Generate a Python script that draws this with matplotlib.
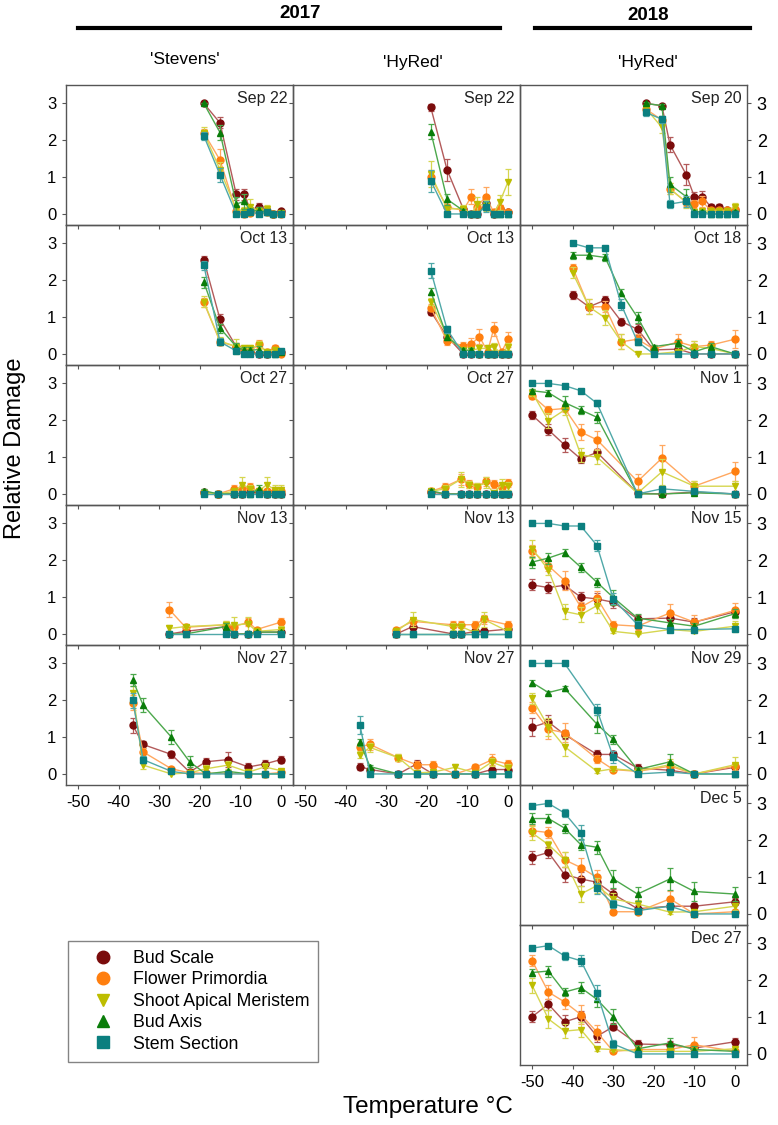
import matplotlib
matplotlib.use("Agg")
import matplotlib.pyplot as plt
from matplotlib.lines import Line2D

plt.rcParams["font.family"] = ["Liberation Sans", "DejaVu Sans"]
plt.rcParams["axes.unicode_minus"] = False

# tissue order: Bud Scale, Flower Primordia, Shoot Apical Meristem, Bud Axis, Stem Section
tissues = ["Bud Scale", "Flower Primordia", "Shoot Apical Meristem", "Bud Axis", "Stem Section"]
marker_colors = ["#7A0B0B", "#FF7F0F", "#BDBD00", "#0A7D0A", "#0B7F7F"]
line_colors = ["#B35A5A", "#FFA860", "#D6D650", "#4CA84C", "#4FA8A8"]
markers = ["o", "o", "v", "^", "s"]

# ---- 2017 'Stevens' ----
st_sep22_temp = [-19, -15, -11, -9, -7.5, -5.5, -3.5, -2, 0]
st_sep22_mean = [[3.0, 2.47, 0.53, 0.53, 0.1, 0.2, 0.07, 0.0, 0.07],
                 [2.2, 1.46, 0.07, 0.0, 0.02, 0.05, 0.05, 0.0, 0.0],
                 [2.2, 1.2, 0.13, 0.08, 0.2, 0.08, 0.13, 0.0, 0.03],
                 [3.0, 2.21, 0.27, 0.34, 0.07, 0.1, 0.05, 0.0, 0.02],
                 [2.12, 1.06, 0.0, 0.0, 0.06, 0.0, 0.05, 0.0, 0.0]]
st_sep22_se = [[0, 0.15, 0.15, 0.15, 0.1, 0.1, 0.08, 0, 0.05],
               [0.1, 0.3, 0.1, 0, 0.05, 0.05, 0.05, 0, 0],
               [0.15, 0.2, 0.1, 0.1, 0.2, 0.1, 0.1, 0, 0.05],
               [0, 0.2, 0.2, 0.2, 0.1, 0.1, 0.05, 0, 0.05],
               [0.1, 0.2, 0, 0, 0.05, 0, 0.05, 0, 0]]

st_oct13_temp = [-19, -15, -11, -9, -7.5, -5.5, -3.5, -1.5, 0]
st_oct13_mean = [[2.55, 0.94, 0.2, 0.06, 0.06, 0.0, 0.0, 0.06, 0.06],
                 [1.4, 0.33, 0.2, 0.1, 0.06, 0.27, 0.06, 0.15, 0.0],
                 [1.42, 0.35, 0.2, 0.15, 0.15, 0.24, 0.06, 0.1, 0.06],
                 [1.95, 0.7, 0.2, 0.1, 0.1, 0.12, 0.0, 0.0, 0.06],
                 [2.41, 0.33, 0.08, 0.0, 0.0, 0.0, 0.0, 0.0, 0.08]]
st_oct13_se = [[0.12, 0.15, 0.1, 0.05, 0.05, 0, 0, 0.05, 0.05],
               [0.12, 0.1, 0.1, 0.1, 0.1, 0.12, 0.05, 0.1, 0],
               [0.15, 0.1, 0.2, 0.1, 0.1, 0.1, 0.05, 0.1, 0.05],
               [0.15, 0.12, 0.1, 0.1, 0.1, 0.1, 0, 0, 0.05],
               [0.12, 0.1, 0.05, 0, 0, 0, 0, 0, 0.05]]

st_oct27_temp = [-19, -15.5, -11.5, -9.5, -7.5, -5.5, -3.5, -1.5, 0]
st_oct27_mean = [[0.05, 0.0, 0.0, 0.0, 0.05, 0.05, 0.0, 0.0, 0.0],
                 [0.03, 0.0, 0.14, 0.14, 0.19, 0.07, 0.09, 0.09, 0.09],
                 [0.03, 0.0, 0.07, 0.25, 0.14, 0.07, 0.25, 0.12, 0.12],
                 [0.09, 0.0, 0.0, 0.0, 0.0, 0.14, 0.0, 0.0, 0.0],
                 [0.0, 0.0, 0.0, 0.0, 0.0, 0.0, 0.0, 0.0, 0.0]]
st_oct27_se = [[0, 0, 0, 0, 0.05, 0.05, 0, 0, 0],
               [0.05, 0, 0.1, 0.1, 0.1, 0.05, 0.05, 0.1, 0.1],
               [0.05, 0, 0.05, 0.2, 0.1, 0.1, 0.2, 0.12, 0.12],
               [0.05, 0, 0, 0, 0, 0.1, 0, 0, 0],
               [0, 0, 0, 0, 0, 0, 0, 0, 0]]

st_nov13_temp = [-27.5, -23.5, -13.5, -11.5, -8, -6, 0]
st_nov13_mean = [[0.0, 0.07, 0.2, 0.0, 0.0, 0.05, 0.05],
                 [0.66, 0.18, 0.25, 0.2, 0.32, 0.12, 0.32],
                 [0.15, 0.2, 0.25, 0.25, 0.27, 0.07, 0.12],
                 [0.0, 0.0, 0.2, 0.0, 0.0, 0.05, 0.05],
                 [0.0, 0.0, 0.0, 0.0, 0.0, 0.0, 0.0]]
st_nov13_se = [[0, 0.05, 0.1, 0, 0, 0.03, 0.03],
               [0.2, 0.05, 0.1, 0.1, 0.1, 0.05, 0.1],
               [0.1, 0.05, 0.1, 0.2, 0.2, 0.05, 0.1],
               [0, 0, 0.1, 0, 0, 0.03, 0.03],
               [0, 0, 0, 0, 0, 0, 0]]

st_nov27_temp = [-36.5, -34, -27, -22.5, -18.5, -13, -8, -4, 0]
st_nov27_mean = [[1.32, 0.8, 0.53, 0.05, 0.33, 0.39, 0.19, 0.27, 0.39],
                 [1.93, 0.6, 0.14, 0.03, 0.02, 0.02, 0.0, 0.0, 0.04],
                 [2.2, 0.24, 0.0, 0.03, 0.14, 0.24, 0.05, 0.19, 0.09],
                 [2.55, 1.87, 1.0, 0.33, 0.0, 0.07, 0.0, 0.0, 0.0],
                 [2.0, 0.39, 0.07, 0.0, 0.0, 0.0, 0.0, 0.0, 0.0]]
st_nov27_se = [[0.2, 0.1, 0.1, 0.05, 0.1, 0.2, 0.1, 0.1, 0.1],
               [0.2, 0.1, 0.05, 0.05, 0, 0, 0, 0, 0.05],
               [0.2, 0.1, 0, 0.05, 0.1, 0.1, 0.05, 0.1, 0.05],
               [0.15, 0.2, 0.2, 0.15, 0, 0.05, 0, 0, 0],
               [0.2, 0.1, 0.05, 0, 0, 0, 0, 0, 0]]

# ---- 2017 'HyRed' ----
hy17_sep22_temp = [-19, -15, -11, -9, -7.5, -5.5, -3.5, -2, 0]
hy17_sep22_mean = [[2.89, 1.2, 0.14, 0.0, 0.0, 0.29, 0.0, 0.14, 0.06],
                   [1.0, 0.18, 0.1, 0.47, 0.2, 0.47, 0.06, 0.15, 0.06],
                   [1.08, 0.14, 0.14, 0.0, 0.27, 0.23, 0.0, 0.32, 0.86],
                   [2.23, 0.4, 0.09, 0.0, 0.0, 0.23, 0.0, 0.0, 0.0],
                   [0.9, 0.0, 0.0, 0.0, 0.0, 0.2, 0.0, 0.0, 0.0]]
hy17_sep22_se = [[0.1, 0.3, 0.05, 0, 0, 0.15, 0, 0.1, 0.05],
                 [0.2, 0.1, 0.1, 0.2, 0.1, 0.25, 0.05, 0.1, 0.05],
                 [0.35, 0.1, 0.1, 0, 0.2, 0.15, 0, 0.2, 0.35],
                 [0.2, 0.15, 0.05, 0, 0, 0.1, 0, 0, 0],
                 [0.3, 0, 0, 0, 0, 0.15, 0, 0, 0]]

hy17_oct13_temp = [-19, -15, -11, -9, -7, -5, -3.5, -1.5, 0]
hy17_oct13_mean = [[1.15, 0.47, 0.0, 0.0, 0.0, 0.0, 0.0, 0.0, 0.0],
                   [1.26, 0.35, 0.22, 0.27, 0.47, 0.06, 0.68, 0.06, 0.4],
                   [1.42, 0.5, 0.1, 0.1, 0.15, 0.15, 0.2, 0.0, 0.2],
                   [1.69, 0.47, 0.1, 0.1, 0.0, 0.0, 0.0, 0.0, 0.0],
                   [2.26, 0.67, 0.0, 0.0, 0.0, 0.0, 0.0, 0.0, 0.0]]
hy17_oct13_se = [[0.1, 0.1, 0, 0, 0, 0, 0, 0, 0],
                 [0.1, 0.1, 0.1, 0.15, 0.2, 0.05, 0.2, 0.05, 0.2],
                 [0.1, 0.1, 0.05, 0.05, 0.1, 0.1, 0.1, 0, 0.1],
                 [0.1, 0.1, 0.05, 0.05, 0, 0, 0, 0, 0],
                 [0.2, 0.1, 0, 0, 0, 0, 0, 0, 0]]

hy17_oct27_temp = [-19, -15.5, -11.5, -9.5, -7.5, -5.5, -3.5, -1.5, 0]
hy17_oct27_mean = [[0.05, 0.0, 0.0, 0.0, 0.0, 0.0, 0.0, 0.0, 0.0],
                   [0.07, 0.2, 0.4, 0.27, 0.2, 0.34, 0.27, 0.18, 0.3],
                   [0.07, 0.14, 0.4, 0.25, 0.2, 0.3, 0.02, 0.25, 0.22],
                   [0.09, 0.0, 0.0, 0.0, 0.0, 0.0, 0.0, 0.0, 0.0],
                   [0.0, 0.0, 0.0, 0.0, 0.0, 0.0, 0.0, 0.0, 0.0]]
hy17_oct27_se = [[0.03, 0, 0, 0, 0, 0, 0, 0, 0],
                 [0.05, 0.1, 0.15, 0.1, 0.1, 0.12, 0.12, 0.1, 0.1],
                 [0.05, 0.1, 0.2, 0.1, 0.1, 0.15, 0.05, 0.15, 0.1],
                 [0.05, 0, 0, 0, 0, 0, 0, 0, 0],
                 [0, 0, 0, 0, 0, 0, 0, 0, 0]]

hy17_nov13_temp = [-27.5, -23.5, -13.5, -11.5, -8, -6, 0]
hy17_nov13_mean = [[0.0, 0.2, 0.0, 0.0, 0.07, 0.07, 0.13],
                   [0.12, 0.34, 0.25, 0.25, 0.25, 0.4, 0.25],
                   [0.07, 0.39, 0.2, 0.2, 0.03, 0.4, 0.07],
                   [0.0, 0.0, 0.0, 0.0, 0.0, 0.0, 0.0],
                   [0.0, 0.0, 0.0, 0.0, 0.0, 0.0, 0.0]]
hy17_nov13_se = [[0, 0.1, 0, 0, 0.05, 0.05, 0.05],
                 [0.05, 0.1, 0.1, 0.1, 0.1, 0.12, 0.1],
                 [0.05, 0.2, 0.1, 0.1, 0.05, 0.2, 0.05],
                 [0, 0, 0, 0, 0, 0, 0],
                 [0, 0, 0, 0, 0, 0, 0]]

hy17_nov27_temp = [-36.5, -34, -27, -22.5, -18.5, -13, -8, -4, 0]
hy17_nov27_mean = [[0.2, 0.12, 0.0, 0.27, 0.0, 0.0, 0.0, 0.12, 0.12],
                   [0.74, 0.8, 0.44, 0.25, 0.25, 0.0, 0.18, 0.38, 0.27],
                   [0.52, 0.72, 0.44, 0.03, 0.05, 0.18, 0.03, 0.32, 0.16],
                   [0.86, 0.2, 0.0, 0.0, 0.0, 0.0, 0.0, 0.0, 0.0],
                   [1.33, 0.0, 0.0, 0.0, 0.0, 0.0, 0.0, 0.0, 0.0]]
hy17_nov27_se = [[0.1, 0.05, 0, 0.1, 0, 0, 0, 0.05, 0.05],
                 [0.1, 0.15, 0.1, 0.1, 0.1, 0, 0.1, 0.15, 0.1],
                 [0.1, 0.12, 0.1, 0.05, 0.05, 0.1, 0.05, 0.1, 0.1],
                 [0.1, 0.05, 0, 0, 0, 0, 0, 0, 0],
                 [0.25, 0, 0, 0, 0, 0, 0, 0, 0]]

# ---- 2018 'HyRed' ----
hy18_sep20_temp = [-22, -18, -16, -12, -10, -8, -6, -4, -2, 0]
hy18_sep20_mean = [[3.0, 2.94, 1.88, 1.07, 0.47, 0.47, 0.2, 0.2, 0.1, 0.1],
                   [2.85, 2.55, 0.68, 0.32, 0.27, 0.34, 0.1, 0.1, 0.1, 0.14],
                   [2.87, 2.35, 0.68, 0.32, 0.05, 0.08, 0.08, 0.08, 0.08, 0.2],
                   [3.0, 2.94, 0.8, 0.47, 0.05, 0.06, 0.0, 0.0, 0.0, 0.05],
                   [2.76, 2.57, 0.27, 0.34, 0.0, 0.0, 0.0, 0.0, 0.0, 0.0]]
hy18_sep20_se = [[0, 0.05, 0.2, 0.28, 0.12, 0.15, 0.08, 0.08, 0.05, 0.05],
                 [0.1, 0.1, 0.15, 0.1, 0.1, 0.15, 0.05, 0.05, 0.05, 0.05],
                 [0.1, 0.15, 0.15, 0.15, 0.05, 0.05, 0.05, 0.05, 0.05, 0.1],
                 [0.05, 0.05, 0.2, 0.2, 0.05, 0.05, 0, 0, 0, 0.05],
                 [0.1, 0.1, 0.1, 0.15, 0, 0, 0, 0, 0, 0]]

hy18_oct18_temp = [-40, -36, -32, -28, -24, -20, -14, -10, -6, 0]
hy18_oct18_mean = [[1.6, 1.28, 1.46, 0.88, 0.67, 0.11, 0.13, 0.0, 0.0, 0.0],
                   [2.34, 1.28, 1.28, 0.33, 0.4, 0.13, 0.33, 0.2, 0.24, 0.4],
                   [2.2, 1.28, 0.98, 0.33, 0.0, 0.0, 0.06, 0.2, 0.15, 0.0],
                   [2.68, 2.68, 2.62, 1.66, 0.99, 0.2, 0.29, 0.06, 0.2, 0.0],
                   [3.0, 2.88, 2.88, 1.33, 0.33, 0.0, 0.0, 0.0, 0.0, 0.0]]
hy18_oct18_se = [[0.1, 0.1, 0.1, 0.1, 0.15, 0.1, 0.1, 0, 0, 0],
                 [0.1, 0.2, 0.15, 0.2, 0.15, 0.1, 0.2, 0.15, 0.1, 0.25],
                 [0.15, 0.2, 0.2, 0.2, 0, 0, 0.05, 0.15, 0.1, 0],
                 [0.1, 0.1, 0.1, 0.1, 0.15, 0.05, 0.1, 0.05, 0.1, 0],
                 [0, 0.05, 0.05, 0.15, 0.1, 0, 0, 0, 0, 0]]

hy18_nov1_temp = [-50, -46, -42, -38, -34, -24, -18, -10, 0]
hy18_nov1_mean = [[2.14, 1.74, 1.33, 0.95, 1.13, 0.02, 0.0, 0.05, 0.0],
                  [2.67, 2.28, 2.32, 1.68, 1.47, 0.34, 0.97, 0.21, 0.61],
                  [2.75, 1.99, 2.28, 1.06, 1.0, 0.02, 0.6, 0.21, 0.21],
                  [2.8, 2.75, 2.48, 2.28, 2.08, 0.0, 0.0, 0.03, 0.0],
                  [3.0, 3.0, 2.94, 2.8, 2.46, 0.0, 0.14, 0.07, 0.0]]
hy18_nov1_se = [[0.1, 0.15, 0.18, 0.12, 0.1, 0, 0, 0.05, 0],
                [0.08, 0.12, 0.1, 0.22, 0.25, 0.2, 0.35, 0.15, 0.25],
                [0.1, 0.2, 0.15, 0.2, 0.2, 0, 0.35, 0.15, 0.15],
                [0.05, 0.08, 0.18, 0.12, 0.15, 0, 0, 0.05, 0],
                [0, 0, 0.05, 0.05, 0.08, 0, 0.08, 0.05, 0]]

hy18_nov15_temp = [-50, -46, -42, -38, -34, -30, -24, -16, -10, 0]
hy18_nov15_mean = [[1.33, 1.26, 1.32, 1.0, 0.95, 0.86, 0.41, 0.43, 0.32, 0.6],
                   [2.26, 1.85, 1.45, 0.73, 0.97, 0.25, 0.21, 0.57, 0.32, 0.64],
                   [2.31, 1.74, 0.61, 0.52, 0.77, 0.07, 0.0, 0.12, 0.07, 0.21],
                   [1.95, 2.06, 2.21, 1.81, 1.4, 0.99, 0.43, 0.3, 0.21, 0.55],
                   [3.0, 3.0, 2.93, 2.93, 2.4, 0.95, 0.25, 0.12, 0.12, 0.14]]
hy18_nov15_se = [[0.15, 0.15, 0.1, 0.15, 0.15, 0.15, 0.1, 0.1, 0.1, 0.1],
                 [0.15, 0.15, 0.25, 0.15, 0.2, 0.1, 0.1, 0.25, 0.2, 0.2],
                 [0.25, 0.15, 0.2, 0.2, 0.2, 0.05, 0, 0.05, 0.05, 0.15],
                 [0.15, 0.15, 0.1, 0.12, 0.12, 0.2, 0.1, 0.1, 0.1, 0.12],
                 [0, 0, 0.03, 0.03, 0.15, 0.15, 0.1, 0.05, 0.05, 0.05]]

hy18_nov29_temp = [-50, -46, -42, -34, -30, -24, -16, -10, 0]
hy18_nov29_mean = [[1.27, 1.41, 1.07, 0.53, 0.53, 0.16, 0.1, 0.0, 0.18],
                   [1.8, 1.21, 1.12, 0.41, 0.12, 0.07, 0.21, 0.0, 0.21],
                   [2.05, 1.28, 0.74, 0.07, 0.14, 0.08, 0.25, 0.0, 0.25],
                   [2.48, 2.21, 2.32, 1.35, 0.94, 0.12, 0.33, 0.0, 0.0],
                   [3.0, 3.0, 3.0, 1.74, 0.46, 0.0, 0.05, 0.0, 0.0]]
hy18_nov29_se = [[0.25, 0.2, 0.12, 0.12, 0.1, 0.1, 0.1, 0, 0.05],
                 [0.15, 0.25, 0.25, 0.1, 0.05, 0.05, 0.15, 0, 0.1],
                 [0.15, 0.25, 0.25, 0.05, 0.05, 0.05, 0.15, 0, 0.2],
                 [0.08, 0.05, 0.08, 0.25, 0.12, 0.08, 0.2, 0, 0],
                 [0, 0, 0, 0.15, 0.15, 0, 0.05, 0, 0]]

hy18_dec5_temp = [-50, -46, -42, -38, -34, -30, -24, -16, -10, 0]
hy18_dec5_mean = [[1.54, 1.67, 1.07, 0.95, 0.86, 0.54, 0.14, 0.21, 0.21, 0.33],
                  [2.26, 2.21, 1.47, 1.26, 0.99, 0.06, 0.06, 0.41, 0.0, 0.06],
                  [2.2, 1.88, 1.47, 0.54, 0.77, 0.41, 0.27, 0.05, 0.06, 0.21],
                  [2.59, 2.59, 2.33, 1.88, 1.81, 0.95, 0.54, 0.95, 0.61, 0.54],
                  [2.94, 3.0, 2.74, 2.21, 0.7, 0.27, 0.09, 0.21, 0.0, 0.0]]
hy18_dec5_se = [[0.18, 0.15, 0.2, 0.2, 0.2, 0.15, 0.1, 0.1, 0.1, 0.1],
                [0.15, 0.15, 0.2, 0.25, 0.2, 0.05, 0.05, 0.2, 0, 0.05],
                [0.2, 0.1, 0.2, 0.22, 0.2, 0.15, 0.1, 0.05, 0.05, 0.1],
                [0.15, 0.12, 0.12, 0.15, 0.18, 0.25, 0.2, 0.3, 0.25, 0.2],
                [0.03, 0, 0.1, 0.2, 0.15, 0.1, 0.05, 0.1, 0, 0]]

hy18_dec27_temp = [-50, -46, -42, -38, -34, -30, -24, -16, -10, 0]
hy18_dec27_mean = [[1.01, 1.35, 0.87, 1.01, 0.48, 0.74, 0.27, 0.25, 0.16, 0.33],
                   [2.53, 1.68, 1.41, 1.07, 0.59, 0.07, 0.12, 0.12, 0.25, 0.07],
                   [1.86, 0.95, 0.62, 0.66, 0.14, 0.12, 0.07, 0.07, 0.07, 0.14],
                   [2.21, 2.25, 1.68, 1.8, 1.48, 1.01, 0.14, 0.3, 0.12, 0.07],
                   [2.87, 2.94, 2.66, 2.53, 1.66, 0.27, 0.0, 0.0, 0.0, 0.0]]
hy18_dec27_se = [[0.15, 0.15, 0.18, 0.15, 0.15, 0.1, 0.1, 0.1, 0.1, 0.1],
                 [0.15, 0.2, 0.2, 0.25, 0.2, 0.05, 0.1, 0.1, 0.2, 0.05],
                 [0.2, 0.25, 0.2, 0.2, 0.05, 0.05, 0, 0, 0, 0.05],
                 [0.1, 0.15, 0.12, 0.15, 0.2, 0.2, 0.1, 0.12, 0.1, 0.05],
                 [0.05, 0.03, 0.1, 0.15, 0.2, 0.1, 0, 0, 0, 0]]

stevens_dates = ["Sep 22", "Oct 13", "Oct 27", "Nov 13", "Nov 27"]
hyred17_dates = ["Sep 22", "Oct 13", "Oct 27", "Nov 13", "Nov 27"]
hyred18_dates = ["Sep 20", "Oct 18", "Nov 1", "Nov 15", "Nov 29", "Dec 5", "Dec 27"]

stevens_panels = [(st_sep22_temp, st_sep22_mean, st_sep22_se),
                  (st_oct13_temp, st_oct13_mean, st_oct13_se),
                  (st_oct27_temp, st_oct27_mean, st_oct27_se),
                  (st_nov13_temp, st_nov13_mean, st_nov13_se),
                  (st_nov27_temp, st_nov27_mean, st_nov27_se)]
hyred17_panels = [(hy17_sep22_temp, hy17_sep22_mean, hy17_sep22_se),
                  (hy17_oct13_temp, hy17_oct13_mean, hy17_oct13_se),
                  (hy17_oct27_temp, hy17_oct27_mean, hy17_oct27_se),
                  (hy17_nov13_temp, hy17_nov13_mean, hy17_nov13_se),
                  (hy17_nov27_temp, hy17_nov27_mean, hy17_nov27_se)]
hyred18_panels = [(hy18_sep20_temp, hy18_sep20_mean, hy18_sep20_se),
                  (hy18_oct18_temp, hy18_oct18_mean, hy18_oct18_se),
                  (hy18_nov1_temp, hy18_nov1_mean, hy18_nov1_se),
                  (hy18_nov15_temp, hy18_nov15_mean, hy18_nov15_se),
                  (hy18_nov29_temp, hy18_nov29_mean, hy18_nov29_se),
                  (hy18_dec5_temp, hy18_dec5_mean, hy18_dec5_se),
                  (hy18_dec27_temp, hy18_dec27_mean, hy18_dec27_se)]

W, H = 778, 1125
fig = plt.figure(figsize=(W / 100, H / 100), dpi=100)

col_left = [66, 293, 520]
panel_w = 227
panel_h = 140
top0 = 85
frame_color = "#555555"


def draw_panel(ax, temps, means, ses, date):
    for i in range(5):
        ax.errorbar(temps, means[i], yerr=ses[i], color=line_colors[i], lw=1.0,
                    elinewidth=0.9, capsize=2, capthick=0.9, marker=markers[i],
                    ms=5, mfc=marker_colors[i], mec=marker_colors[i], zorder=2 + i)
    ax.set_xlim(-53, 3)
    ax.set_ylim(-0.3, 3.5)
    ax.set_xticks([-50, -40, -30, -20, -10, 0])
    ax.set_yticks([0, 1, 2, 3])
    ax.set_facecolor("none")
    for s in ax.spines.values():
        s.set_color(frame_color)
        s.set_linewidth(1.0)
    ax.tick_params(axis="both", direction="out", length=3, width=0.8,
                   color=frame_color, labelsize=12, pad=4)
    ax.text(0.975, 0.955, date, transform=ax.transAxes, ha="right", va="top",
            fontsize=11.5, color="#222222")


def make_axes(col, row):
    left = col_left[col]
    top = top0 + row * panel_h
    return fig.add_axes([left / W, 1 - (top + panel_h) / H, panel_w / W, panel_h / H])


for col, (panels, dates) in enumerate([(stevens_panels, stevens_dates),
                                       (hyred17_panels, hyred17_dates),
                                       (hyred18_panels, hyred18_dates)]):
    n = len(panels)
    for row, ((t, m, s), d) in enumerate(zip(panels, dates)):
        ax = make_axes(col, row)
        draw_panel(ax, t, m, s, d)
        if row < n - 1:
            ax.tick_params(axis="x", labelbottom=False)
        if col == 1:
            ax.tick_params(axis="y", labelleft=False)
        if col == 2:
            ax.yaxis.tick_right()
            ax.tick_params(axis="y", labelright=True, labelleft=False, labelsize=13)

# headers
fig.text(300 / W, 1 - 14 / H, "2017", ha="center", va="center", fontsize=13.5, fontweight="bold")
fig.text(648 / W, 1 - 16 / H, "2018", ha="center", va="center", fontsize=13.5, fontweight="bold")
fig.add_artist(Line2D([78 / W, 500 / W], [1 - 28 / H, 1 - 28 / H], color="black", lw=3,
                      transform=fig.transFigure))
fig.add_artist(Line2D([535 / W, 750 / W], [1 - 28 / H, 1 - 28 / H], color="black", lw=3,
                      transform=fig.transFigure))
fig.text(185 / W, 1 - 60 / H, "'Stevens'", ha="center", va="center", fontsize=12.5)
fig.text(413 / W, 1 - 62 / H, "'HyRed'", ha="center", va="center", fontsize=12.5)
fig.text(648 / W, 1 - 62 / H, "'HyRed'", ha="center", va="center", fontsize=12.5)

fig.text(15 / W, 1 - 448 / H, "Relative Damage", rotation=90, ha="center", va="center",
         fontsize=17)
fig.text(428 / W, 1 - 1107 / H, "Temperature \u00b0C", ha="center", va="center", fontsize=17.5)

handles = [Line2D([], [], linestyle="none", marker=markers[i], ms=9,
                  mfc=marker_colors[i], mec=marker_colors[i]) for i in range(5)]
fig.legend(handles, tissues, loc="upper left", bbox_to_anchor=(68 / W, 1 - 941 / H),
           fontsize=12.8, frameon=True, fancybox=False, edgecolor="#666666",
           borderpad=0.5, handlelength=2.9, handletextpad=0.25, labelspacing=0.25,
           borderaxespad=0)

fig.savefig("out.png", dpi=100)
